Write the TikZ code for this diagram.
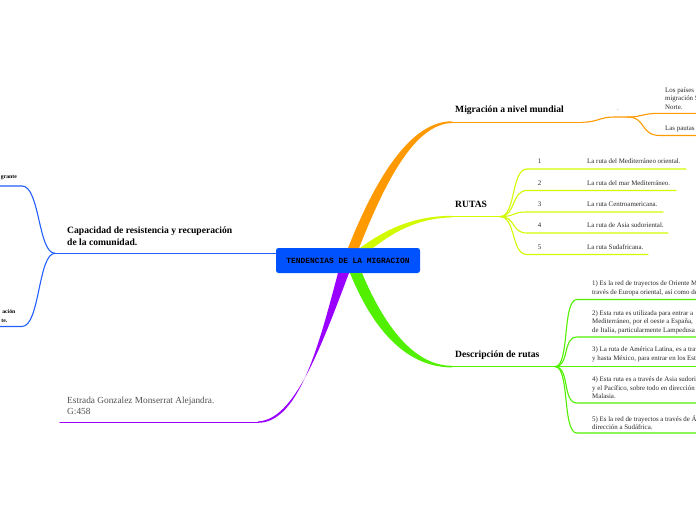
\documentclass[tikz,border=0pt]{standalone}
\usepackage{fontspec}
\setmainfont{Liberation Serif}
\setmonofont{Liberation Mono}
\definecolor{cblue}{RGB}{0,82,255}
\definecolor{bblue}{RGB}{35,95,255}
\definecolor{corange}{RGB}{255,153,0}
\definecolor{cyell}{RGB}{210,250,0}
\definecolor{cgreen}{RGB}{80,240,0}
\definecolor{cpurple}{RGB}{153,0,255}
\definecolor{ctext}{RGB}{40,40,40}
\begin{document}
\begin{tikzpicture}[x=1pt,y=-1pt,
  central/.style={fill=cblue,rounded corners=2.5pt,minimum width=144pt,minimum height=25pt,inner sep=0pt,
    font=\ttfamily\bfseries\fontsize{7.9}{9}\selectfont,text=black},
  title/.style={anchor=west,inner sep=0pt,font=\bfseries\fontsize{9.6}{11.5}\selectfont,text=black,align=left},
  small/.style={anchor=west,inner sep=0pt,font=\fontsize{6.9}{8.4}\selectfont,text=ctext,align=left},
  leftsmall/.style={anchor=east,inner sep=0pt,font=\bfseries\fontsize{5.7}{8.2}\selectfont,text=black},
  author/.style={anchor=west,inner sep=0pt,font=\fontsize{9.3}{11}\selectfont,text={rgb,255:red,80;green,80;blue,80},align=left},
  ln/.style={line width=1.1pt,line cap=round}
]
\useasboundingbox (0,0) rectangle (696,520);
\clip (0,0) rectangle (696,520);

% ---------- central node
\node[central] (c) at (348,260.5) {TENDENCIAS DE LA MIGRACION};

% ---------- orange branch: Migracion a nivel mundial
\fill[corange] (348,248) .. controls (375,180) and (410,121) .. (452,121.3) -- (452,123) .. controls (415,124) and (386,180) .. (359,248) -- cycle;
\node[title] (mig) at (455,110.5) {Migración a nivel mundial};
\coordinate (mig-e) at (452,122.2);
\coordinate (mig-r) at (583,122.2);
\draw[corange,ln] (mig-e) -- (mig-r);
\node[inner sep=0pt,font=\fontsize{5}{6}\selectfont] (dot) at (618,110) {.};
\coordinate (dot-r) at (628,117);
\draw[corange,ln] (mig-r) .. controls (597,122.2) and (600,117) .. (614,117) -- (dot-r);
\node[small] (paises) at (665,98.5) {Los países\\migración Sur\\Norte.};
\node[small] (pautas) at (665,128.5) {Las pautas};
\draw[corange,ln] (dot-r) .. controls (642,117) and (642,113.3) .. (660,113.3) -- (700,113.3);
\draw[corange,ln] (dot-r) .. controls (646,117) and (640,135.5) .. (660,135.5) -- (700,135.5);

% ---------- yellow branch: RUTAS
\fill[cyell] (360,248) .. controls (382,232) and (410,216) .. (452,215.8) -- (452,217.4) .. controls (415,218) and (390,235) .. (373,248) -- cycle;
\node[title] (rutas) at (455,204.3) {RUTAS};
\coordinate (rutas-e) at (452,216.6);
\coordinate (rutas-r) at (500,216.6);
\draw[cyell,ln] (rutas-e) -- (rutas-r);
\foreach \i/\y/\xe/\t in {1/169/686/{La ruta del Mediterráneo oriental.},
                          2/190.5/676/{La ruta del mar Mediterráneo.},
                          3/212/663/{La ruta Centroamericana.},
                          4/233/668/{La ruta de Asia sudoriental.},
                          5/254.5/648/{La ruta Sudafricana.}}{
  \node[small,anchor=center] (num\i) at (539.5,\y-7.5) {\i};
  \node[small] (ruta\i) at (587,\y-7.5) {\t};
  \draw[cyell,ln] (rutas-r) .. controls (516,216.6) and (511,\y) .. (527,\y) -- (\xe,\y);
}

% ---------- green branch: Descripcion de rutas
\fill[cgreen] (350,273) .. controls (375,335) and (410,367.4) .. (452,367.4) -- (452,365.8) .. controls (416,365.8) and (386,330) .. (362,273) -- cycle;
\node[title] (desc) at (455,355.5) {Descripción de rutas};
\coordinate (desc-e) at (452,366.6);
\coordinate (desc-r) at (555,366.6);
\draw[cgreen,ln] (desc-e) -- (desc-r);
\foreach \y in {299.5,337,366.6,403,433}{
  \draw[cgreen,ln] (desc-r) .. controls (570,366.6) and (562,\y) .. (577,\y) -- (700,\y);
}
\node[small] (d1) at (592,288.5) {1) Es la red de trayectos de Oriente Medio\\través de Europa oriental, así como de};
\node[small] (d2) at (592,322) {2) Esta ruta es utilizada para entrar a\\Mediterráneo, por el oeste a España,\\de Italia, particularmente Lampedusa};
\node[small] (d3) at (592,354.3) {3) La ruta de América Latina, es a través\\y hasta México, para entrar en los Estados};
\node[small] (d4) at (592,388) {4) Esta ruta es a través de Asia sudoriental\\y el Pacífico, sobre todo en dirección\\Malasia.};
\node[small] (d5) at (592,422.3) {5) Es la red de trayectos a través de África\\dirección a Sudáfrica.};

% ---------- blue branch: Capacidad de resistencia
\node[title] (cap) at (67,236) {Capacidad de resistencia y recuperación\\de la comunidad.};
\coordinate (cap-r) at (55,253.3);
\draw[bblue,line width=1.1pt] (c.west |- 0,253.3) -- (cap-r);
\draw[bblue,ln] (cap-r) .. controls (38,253.3) and (40,186) .. (22,186) -- (-5,186);
\draw[bblue,ln] (cap-r) .. controls (38,253.3) and (40,326.5) .. (22,326.5) -- (-5,326.5);
\node[leftsmall] (l1) at (17,178) {grante};
\node[leftsmall] (l2) at (15.5,312) {ación};
\node[leftsmall] (l3) at (7.5,320.5) {te.};

% ---------- purple branch: author
\fill[cpurple] (338,273) .. controls (320,340) and (300,422.8) .. (258,422.8) -- (258,421.4) .. controls (294,420) and (320,350) .. (349,273) -- cycle;
\node[author] (aut) at (67,405.5) {Estrada Gonzalez Monserrat Alejandra.\\G:458};
\coordinate (aut-r) at (258,422.1);
\coordinate (aut-l) at (60,422.1);
\draw[cpurple,ln] (aut-r) -- (aut-l);
\end{tikzpicture}
\end{document}
